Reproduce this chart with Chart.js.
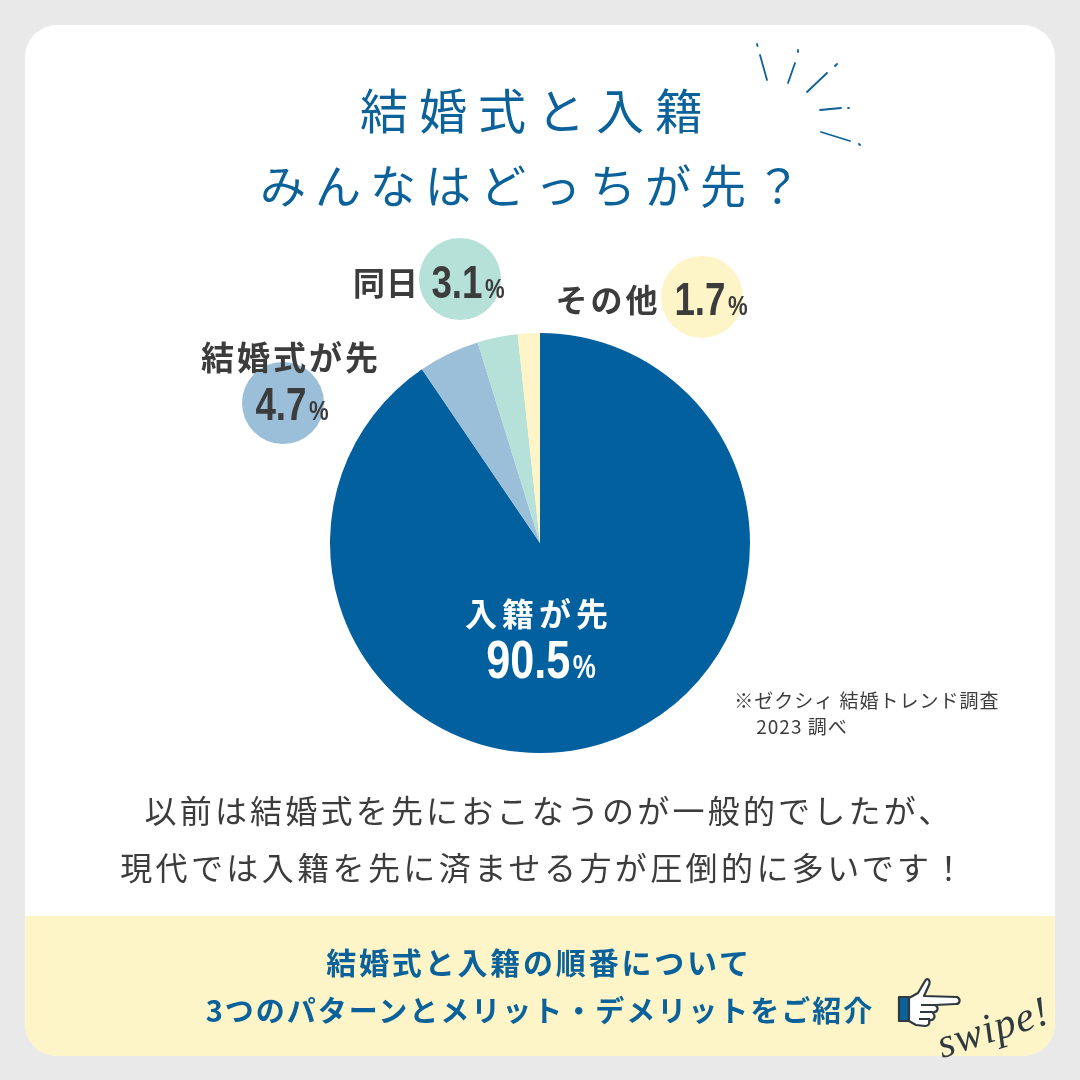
<!DOCTYPE html>
<html lang="ja"><head><meta charset="utf-8">
<script src="https://cdn.jsdelivr.net/npm/chart.js@4"></script>
<style>
html,body{margin:0;padding:0;background:#e9e9e9;}
#stage{position:relative;width:1080px;height:1080px;overflow:hidden;background:#e9e9e9;font-family:"Noto Sans CJK JP";color:#3c3c3c;}
#card{position:absolute;left:25px;top:25px;width:1030px;height:1031px;border-radius:32px;background:#fff;overflow:hidden;}
#band{position:absolute;left:0;top:891px;width:100%;height:140px;background:#fdf4c8;}
#pie{position:absolute;left:330px;top:333px;width:420px;height:420px;}
.t{position:absolute;white-space:nowrap;transform:translate(-50%,-50%);line-height:1;}
.bub{position:absolute;width:82px;height:82px;border-radius:50%;transform:translate(-50%,-50%);}
.num{font-family:"Liberation Sans";font-weight:700;}
.num small{font-size:.6em;font-weight:700;margin-left:3px;}
svg{position:absolute;left:0;top:0;}
</style></head><body>
<div id="stage">
<div id="card"><div id="band"></div></div>
<div id="bubbles"></div>
<div id="pie"><canvas id="c" width="420" height="420"></canvas></div>
<svg width="1080" height="1080" viewBox="0 0 1080 1080" fill="none">
<g stroke="#0b6199" stroke-width="1.8" stroke-linecap="round">
<path d="M760 55L767 80M757 44L757.5 46M795 63L788 83M798 50L798 52M827 73L807 92M837 64L835 66M820 110L841 108M848 108L849 108M821 132L850 141M859 144L860 145"/>
</g>
<g stroke="#2f3a40" stroke-width="2.2" stroke-linejoin="round">
<rect x="899" y="997" width="10" height="24" fill="#0b6199"/>
<path d="M909 998L918 993L925 981C927 977 931 980 929 985L924 996L957 997C961 999 960 1004 956 1004L935 1005C939 1007 938 1012 934 1012L933 1013C936 1016 934 1020 931 1020L929 1021C930 1024 928 1026 925 1026L916 1025L909 1021Z" fill="#fff"/>
<path d="M921 1005H935M920 1012H933M919 1019H930" stroke-width="1.8"/>
</g>
</svg>
<div id="labels"></div>
</div>
<script>
const categories = ["入籍が先","結婚式が先","同日","その他"];
const values = [90.5,4.7,3.1,1.7];
const colors = ["#03609e","#9bbfd9","#b5e1d9","#fdf4c8"];
const titleLines = ["結婚式と入籍","みんなはどっちが先？"];
const bodyLines = ["以前は結婚式を先におこなうのが一般的でしたが、","現代では入籍を先に済ませる方が圧倒的に多いです！"];
const bandLines = ["結婚式と入籍の順番について","3つのパターンとメリット・デメリットをご紹介"];
const noteLines = ["※ゼクシィ 結婚トレンド調査","2023 調べ"];
const swipeText = "swipe!";

const L = document.getElementById('labels');
function put(text,x,y,size,color,weight,spacing,cls,extra){
  const e=document.createElement('div');
  e.className='t '+(cls||'');
  e.style.cssText=`left:${x}px;top:${y}px;font-size:${size}px;color:${color};font-weight:${weight};letter-spacing:${spacing}px;${extra||''}`;
  e.textContent=text; L.appendChild(e); return e;
}
function num(v,x,y,size,color){
  const e=put('',x,y,size,color,700,0,'num','transform:translate(-50%,-50%) scaleX(.8);');
  e.innerHTML=v.toFixed(1)+'<small>%</small>';
}
const B=document.getElementById('bubbles');
[[1,283,403],[2,460,279],[3,702,297]].forEach(([i,x,y])=>{
  const d=document.createElement('div');d.className='bub';
  d.style.cssText=`left:${x}px;top:${y}px;background:${colors[i]}`;B.appendChild(d);
});
put(titleLines[0],537,108,48,'#0b6199',400,11);
put(titleLines[1],535,183,46,'#0b6199',400,9);
put(categories[1],291,356,33,'#3c3c3c',700,3);
num(values[1],292,404,46,'#3c3c3c');
put(categories[2],386,281,32,'#3c3c3c',700,1);
num(values[2],468,282,46,'#3c3c3c');
put(categories[3],608,298,32,'#3c3c3c',700,3);
num(values[3],711,299,46,'#3c3c3c');
put(categories[0],539,612,32,'#fff',700,5);
num(values[0],541,659,54,'#fff');
put(noteLines[0],867,699,19,'#3c3c3c',400,1);
put(noteLines[1],802,725,19,'#3c3c3c',400,1);
put(bodyLines[0],549,809,32,'#3c3c3c',400,3.2);
put(bodyLines[1],544,866,32,'#3c3c3c',400,3.4);
put(bandLines[0],539,961,30,'#0b6199',700,2.8);
put(bandLines[1],540,1009,29,'#0b6199',700,2);
put(swipeText,993,1027,42,'#2f3a40',400,1,'','font-family:"Liberation Serif";font-style:italic;transform:translate(-50%,-50%) rotate(-18deg);');

new Chart(document.getElementById('c'),{
  type:'pie',
  data:{labels:categories,datasets:[{data:values,backgroundColor:colors,borderWidth:0}]},
  options:{responsive:false,animation:false,layout:{padding:0},
    plugins:{legend:{display:false},tooltip:{enabled:false},title:{display:false}}}
});
</script>
</body></html>
